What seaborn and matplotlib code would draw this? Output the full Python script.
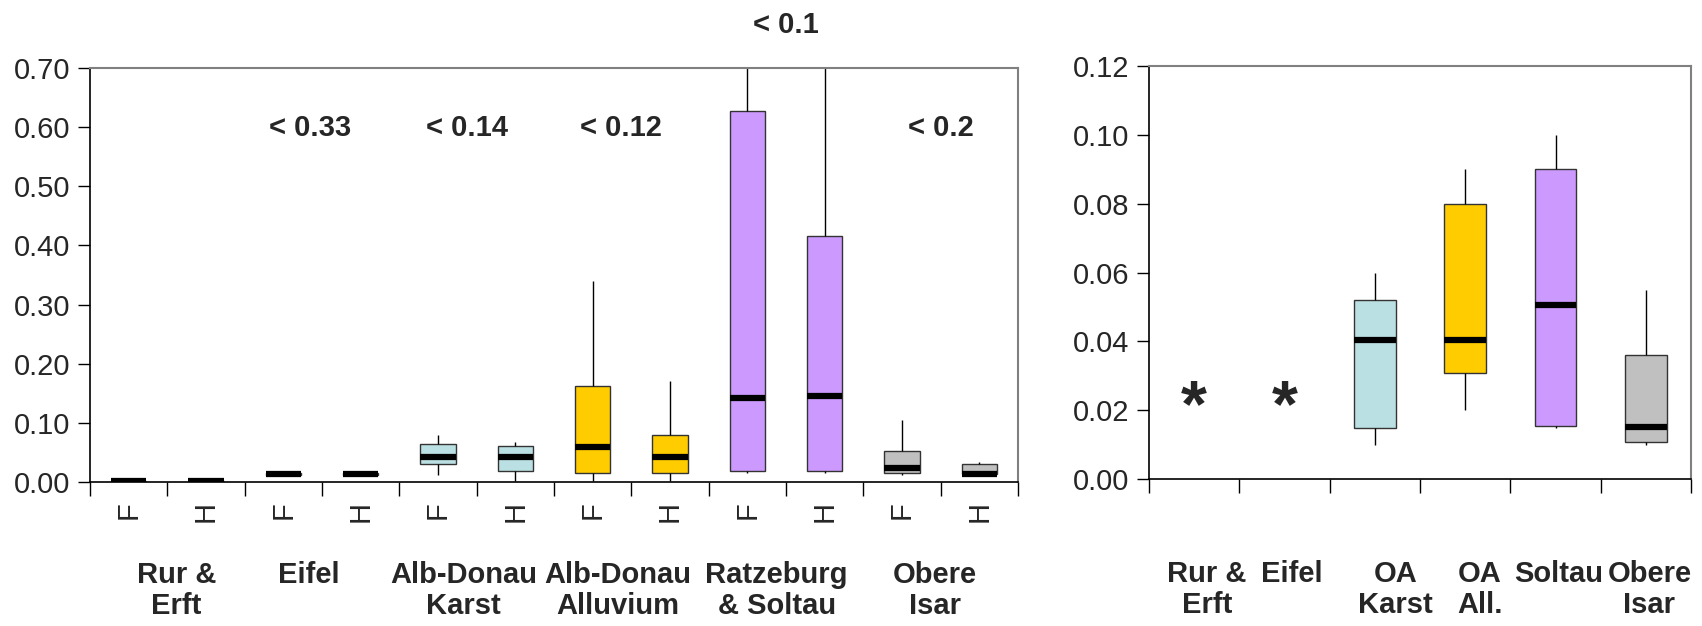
import numpy as np
import pandas as pd
import matplotlib
matplotlib.use("Agg")
import matplotlib.pyplot as plt
import matplotlib.transforms as mtransforms
import seaborn as sns

sns.set_theme(style="white")
plt.rcParams["font.family"] = ["Liberation Sans", "DejaVu Sans"]

# ---------------- data: left panel ----------------
left_groups = ["Rur &\nErft", "Eifel", "Alb-Donau\nKarst", "Alb-Donau\nAlluvium",
               "Ratzeburg\n& Soltau", "Obere\nIsar"]
left_sub = ["F", "H"] * 6
left_min = [0.001, 0.001, 0.010, 0.012, 0.011, 0.002, 0.002, 0.002, 0.015, 0.015, 0.011, 0.0125]
left_q1 = [0.0015, 0.0015, 0.012, 0.012, 0.030, 0.018, 0.015, 0.015, 0.018, 0.018, 0.015, 0.013]
left_med = [0.002, 0.002, 0.0135, 0.0135, 0.043, 0.043, 0.059, 0.043, 0.1425, 0.146, 0.024, 0.0135]
left_q3 = [0.0025, 0.0025, 0.015, 0.015, 0.065, 0.061, 0.163, 0.079, 0.628, 0.416, 0.053, 0.030]
left_max = [0.003, 0.003, 0.015, 0.015, 0.080, 0.068, 0.340, 0.170, 0.90, 0.90, 0.105, 0.034]
left_notes = ["", "< 0.33", "< 0.14", "< 0.12", "< 0.1", "< 0.2"]
left_colors = ["#FFFFFF", "#FFFFFF", "#BBE0E3", "#FFCC00", "#CC99FF", "#C0C0C0"]

# ---------------- data: right panel ----------------
right_cats = ["Rur &\nErft", "Eifel", "OA\nKarst", "OA\nAll.", "Soltau", "Obere\nIsar"]
right_box_cats = ["OA\nKarst", "OA\nAll.", "Soltau", "Obere\nIsar"]
right_min = [0.010, 0.020, 0.0148, 0.010]
right_q1 = [0.0147, 0.0307, 0.0154, 0.0107]
right_med = [0.0403, 0.0403, 0.0505, 0.0152]
right_q3 = [0.0521, 0.080, 0.090, 0.036]
right_max = [0.060, 0.090, 0.100, 0.055]
right_colors = ["#BBE0E3", "#FFCC00", "#CC99FF", "#C0C0C0"]
star_cats = ["Rur &\nErft", "Eifel"]
star_vals = [0.025, 0.025]

# ---------------- build long tables ----------------
left_ids = [f"{i}" for i in range(12)]
rows = []
for i, cid in enumerate(left_ids):
    for v in (left_min[i], left_q1[i], left_med[i], left_q3[i], left_max[i]):
        rows.append((cid, v))
df_left = pd.DataFrame(rows, columns=["cat", "val"])

rows = []
for i, c in enumerate(right_box_cats):
    for v in (right_min[i], right_q1[i], right_med[i], right_q3[i], right_max[i]):
        rows.append((c, v))
df_right = pd.DataFrame(rows, columns=["cat", "val"])

W, H = 1702, 626
fig = plt.figure(figsize=(W / 100, H / 100), dpi=100)
axL = fig.add_axes([90 / W, (H - 482) / H, (1018 - 90) / W, (482 - 68) / H])
axR = fig.add_axes([1149 / W, (H - 479) / H, (1691 - 1149) / W, (479 - 66) / H])

box_kw = dict(whis=(0, 100), width=0.46, showcaps=False, showfliers=False,
              saturation=1, linecolor="#333333", linewidth=1.0,
              medianprops=dict(color="black", linewidth=4.5, solid_capstyle="butt"),
              whiskerprops=dict(color="black", linewidth=1.0),
              boxprops=dict(edgecolor="#333333", linewidth=1.0))

left_pal = {cid: left_colors[i // 2] for i, cid in enumerate(left_ids)}
sns.boxplot(data=df_left, x="cat", y="val", hue="cat", order=left_ids,
            palette=left_pal, legend=False, ax=axL, **box_kw)

right_pal = {c: right_colors[i] for i, c in enumerate(right_box_cats)}
sns.boxplot(data=df_right, x="cat", y="val", hue="cat", order=right_cats,
            hue_order=right_box_cats, palette=right_pal, legend=False, ax=axR, **box_kw)

FS = 21


def style(ax, n, ymax, step):
    ax.set_xlim(-0.5, n - 0.5)
    ax.set_ylim(0, ymax)
    ticks = np.arange(0, ymax + step / 2, step)
    ax.set_yticks(ticks)
    ax.set_yticklabels([f"{t:.2f}" for t in ticks])
    ax.set_xlabel("")
    ax.set_ylabel("")
    ax.tick_params(axis="y", which="major", direction="out", length=9, width=1,
                   color="black", labelsize=FS, pad=5, left=True)
    ax.set_xticks(np.arange(-0.5, n, 1.0), minor=True)
    ax.tick_params(axis="x", which="minor", direction="out", length=10, width=1,
                   color="black", bottom=True)
    for side in ("left", "bottom"):
        ax.spines[side].set_color("black")
        ax.spines[side].set_linewidth(1.2)
    for side in ("top", "right"):
        ax.spines[side].set_color("#808080")
        ax.spines[side].set_linewidth(1.5)
    ax.grid(False)


style(axL, 12, 0.70, 0.10)
style(axR, 6, 0.12, 0.02)

# left: F/H labels
axL.set_xticks(range(12))
axL.set_xticklabels(left_sub, rotation=90, fontsize=FS)
axL.tick_params(axis="x", which="major", length=0, pad=14)
# right: no tick labels
axR.set_xticks(range(6))
axR.set_xticklabels([""] * 6)
axR.tick_params(axis="x", which="major", length=0)

left_lab_dx = [0.12, -0.17, -0.17, -0.17, -0.12, -0.07]
left_note_dx = [0, -0.15, -0.12, -0.13, 0.0, 0.0]
transL = mtransforms.blended_transform_factory(axL.transData, axL.transAxes)
for g, (lab, note) in enumerate(zip(left_groups, left_notes)):
    xc = 2 * g + 0.5
    axL.text(xc + left_lab_dx[g], -0.19, lab, transform=transL, ha="center", va="top",
             fontsize=FS, fontweight="bold", linespacing=1.13)
    if note:
        if g == 4:
            axL.text(xc + left_note_dx[g], 1.105, note, transform=transL, ha="center",
                     va="center", fontsize=FS, fontweight="bold")
        else:
            axL.text(xc + left_note_dx[g], 0.599, note, ha="center", va="center",
                     fontsize=FS, fontweight="bold")

right_lab_dx = [0.14, 0.08, 0.23, 0.16, 0.03, 0.04]
transR = mtransforms.blended_transform_factory(axR.transData, axR.transAxes)
for i, lab in enumerate(right_cats):
    axR.text(i + right_lab_dx[i], -0.196, lab, transform=transR, ha="center", va="top",
             fontsize=FS, fontweight="bold", linespacing=1.13)

for c, v in zip(star_cats, star_vals):
    axR.annotate("*", xy=(right_cats.index(c), v), xytext=(0, -24),
                 textcoords="offset points", ha="center", va="baseline",
                 fontsize=48, fontweight="bold")

fig.savefig("out.png", dpi=100, facecolor="white")
